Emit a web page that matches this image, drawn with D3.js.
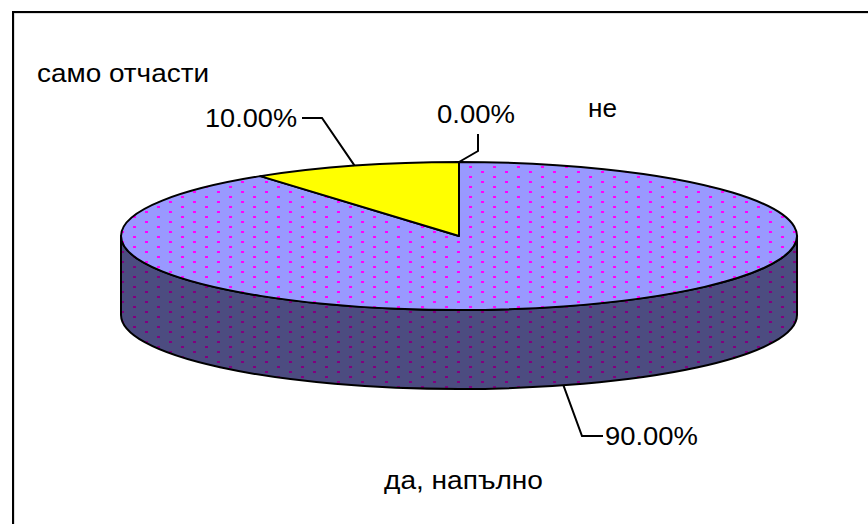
<!DOCTYPE html>
<html>
<head>
<meta charset="utf-8">
<script src="https://cdn.jsdelivr.net/npm/d3@7"></script>
<style>
  body { margin: 0; background: #fff; }
  svg text { font-family: "Liberation Sans", Arial, sans-serif; fill: #000; }
</style>
</head>
<body>
<div id="chart"></div>
<script>
// data
const categories = ["да, напълно", "само отчасти", "не"];
const values = [90, 10, 0];

// layout
const w = 868, h = 524;
const cx = 459, cy = 236, rx = 338, ry = 74, depth = 79;
const fontSize = 25;

// label placement: [x, baseline, width]
const nameLabels = [[384, 489, 159], [37, 82, 172], [588, 117, 29]];
const pctLabels = [[605, 445, 93], [205, 127, 92], [437, 123, 78]];
// leader line elbows (after the anchor on the pie)
const leaders = [
  [[582, 436], [603, 436]],
  [[322, 118], [302, 118]],
  [[478, 151], [478, 134]]
];

const topFill = ["url(#dotsTop)", "#ffff00", "#ffffff"];

let svg = d3.select("#chart")
            .append("svg")
            .attr("width", w)
            .attr("height", h);

//dotted patterns for the big slice
let defs = svg.append("defs");
function makePattern(id, bg, dot) {
  let p = defs.append("pattern")
              .attr("id", id)
              .attr("patternUnits", "userSpaceOnUse")
              .attr("x", 1)
              .attr("y", 1)
              .attr("width", 24)
              .attr("height", 10);
  p.append("rect").attr("width", 24).attr("height", 10).attr("fill", bg);
  p.append("rect").attr("x", 0).attr("y", 0).attr("width", 3).attr("height", 2).attr("fill", dot);
  p.append("rect").attr("x", 12).attr("y", 5).attr("width", 3).attr("height", 2).attr("fill", dot);
}
makePattern("dotsTop", "#9999ff", "#ff00ff");
makePattern("dotsSide", "#4c4c80", "#800080");

//frame
svg.append("rect")
   .attr("x", 14).attr("y", 13)
   .attr("width", w).attr("height", h)
   .attr("fill", "none")
   .attr("stroke", "#bbb")
   .attr("stroke-width", 1);
svg.append("rect")
   .attr("x", 13).attr("y", 12)
   .attr("width", w).attr("height", h)
   .attr("fill", "none")
   .attr("stroke", "#000")
   .attr("stroke-width", 2);

const pie = d3.pie().sort(null).value(d => d);
const arcs = pie(values);
const total = d3.sum(values);
const pct = d3.format(".2%");

const pt = (a, dy = 0) => [cx + rx * Math.sin(a), cy - ry * Math.cos(a) + dy];

//side walls (front half only)
function sidePath(d) {
  let a0 = Math.max(d.startAngle, Math.PI / 2);
  let a1 = Math.min(d.endAngle, 3 * Math.PI / 2);
  if (a1 <= a0) return null;
  return `M${pt(a0)}A${rx},${ry} 0 0 1 ${pt(a1)}L${pt(a1, depth)}A${rx},${ry} 0 0 0 ${pt(a0, depth)}Z`;
}

svg.append("g")
   .selectAll("path")
   .data(arcs.filter(d => sidePath(d)))
   .enter()
   .append("path")
   .attr("d", sidePath)
   .attr("fill", "url(#dotsSide)")
   .attr("stroke", "#000")
   .attr("stroke-width", 2)
   .attr("stroke-linejoin", "round");

//top faces
function topPath(d) {
  let p0 = pt(d.startAngle), p1 = pt(d.endAngle);
  if (d.endAngle - d.startAngle <= 0) return `M${cx},${cy}L${p0}`;
  let large = d.endAngle - d.startAngle > Math.PI ? 1 : 0;
  return `M${cx},${cy}L${p0}A${rx},${ry} 0 ${large} 1 ${p1}Z`;
}

svg.append("g")
   .selectAll("path")
   .data(arcs)
   .enter()
   .append("path")
   .attr("d", topPath)
   .attr("fill", (d, i) => topFill[i])
   .attr("stroke", "#000")
   .attr("stroke-width", 2)
   .attr("stroke-linejoin", "round");

//leader lines
function anchor(d) {
  let mid = (d.startAngle + d.endAngle) / 2;
  let front = mid > Math.PI / 2 && mid < 3 * Math.PI / 2;
  return pt(mid, front ? depth : 0);
}

svg.append("g")
   .selectAll("path")
   .data(arcs)
   .enter()
   .append("path")
   .attr("d", (d, i) => d3.line()([anchor(d), ...leaders[i]]))
   .attr("fill", "none")
   .attr("stroke", "#000")
   .attr("stroke-width", 2);

//labels
svg.append("g")
   .selectAll("text")
   .data(arcs)
   .enter()
   .append("text")
   .attr("x", (d, i) => pctLabels[i][0])
   .attr("y", (d, i) => pctLabels[i][1])
   .attr("textLength", (d, i) => pctLabels[i][2])
   .attr("lengthAdjust", "spacingAndGlyphs")
   .attr("font-size", fontSize)
   .text(d => pct(d.value / total));

svg.append("g")
   .selectAll("text")
   .data(categories)
   .enter()
   .append("text")
   .attr("x", (d, i) => nameLabels[i][0])
   .attr("y", (d, i) => nameLabels[i][1])
   .attr("textLength", (d, i) => nameLabels[i][2])
   .attr("lengthAdjust", "spacingAndGlyphs")
   .attr("font-size", fontSize)
   .text(d => d);
</script>
</body>
</html>
